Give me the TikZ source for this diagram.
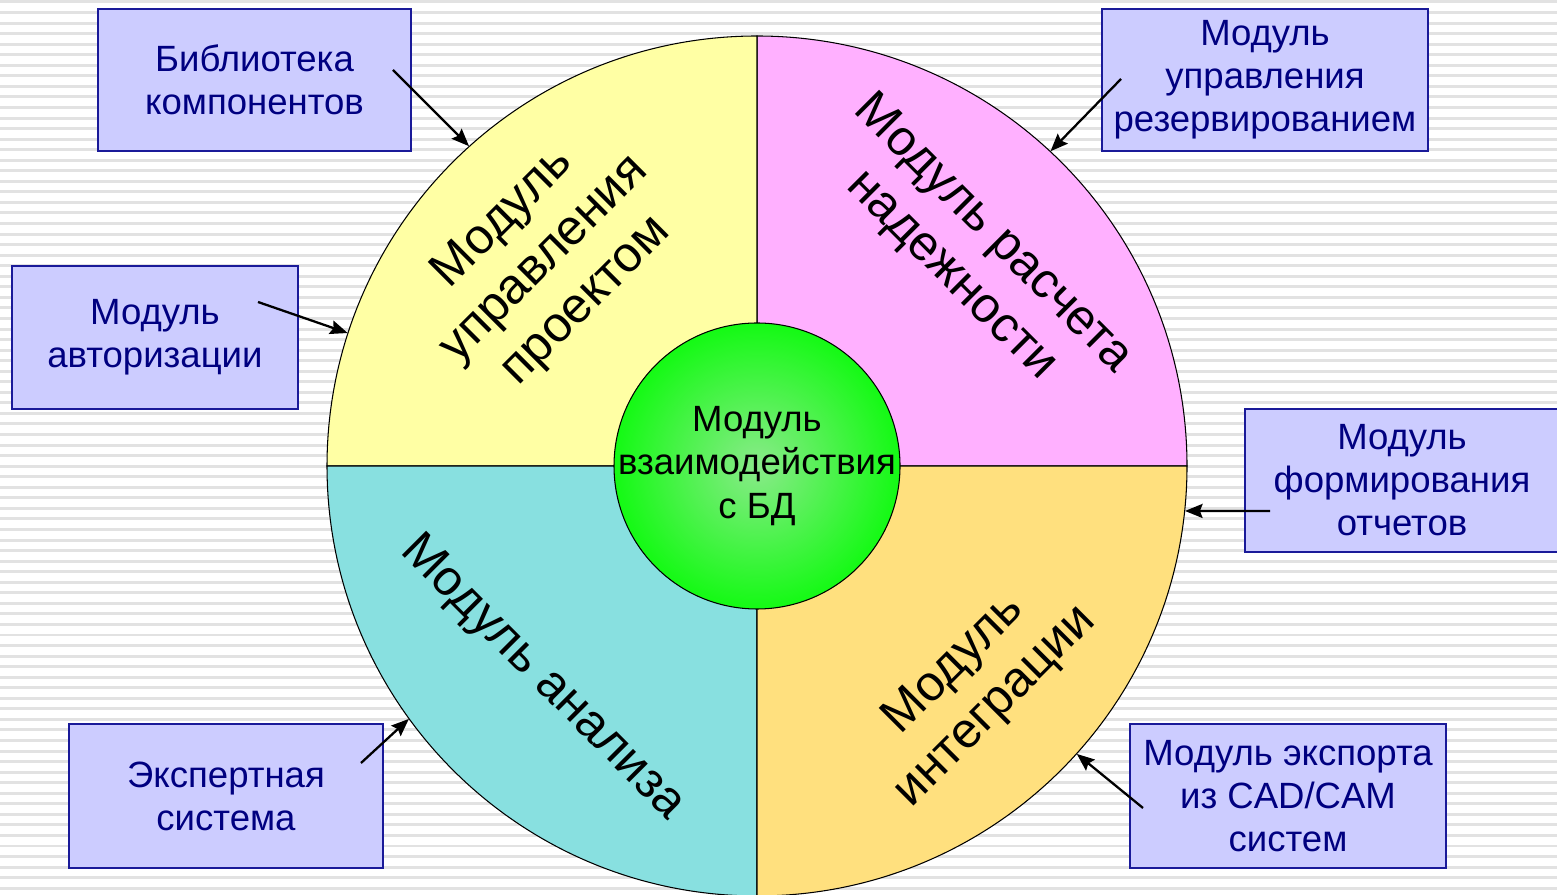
\documentclass[tikz,border=0pt]{standalone}
\usepackage{fontspec}
\setmainfont{Liberation Sans}
\usetikzlibrary{arrows.meta}

\definecolor{boxfill}{HTML}{CCCCFF}
\definecolor{boxline}{HTML}{1A1A99}
\definecolor{boxtext}{HTML}{000080}
\definecolor{secTL}{HTML}{FFFFA4}
\definecolor{secTR}{HTML}{FFB0FF}
\definecolor{secBL}{HTML}{88E0E0}
\definecolor{secBR}{HTML}{FFE07E}
\definecolor{hubin}{HTML}{8AEA8A}
\definecolor{hubout}{HTML}{14FA14}
\definecolor{stripe}{HTML}{E2E2E2}

\def\px{0.02cm}
\def\wheelrad{430}

\begin{document}
\begin{tikzpicture}[x=\px, y=\px]
        \tikzstyle{module}=[draw=boxline, line width=0.85pt, fill=boxfill, text=boxtext, align=center, inner sep=0pt, font=\fontsize{20.8}{24.5}\selectfont]
        \tikzstyle{sector}=[align=center, font=\fontsize{28.3}{33.5}\selectfont]
        \tikzstyle{link}=[line width=1.3pt, -{Stealth[length=10pt, width=8pt, inset=1.5pt]}]

        \useasboundingbox (0,0) rectangle (1557,895);
        \fill[white] (0,0) rectangle (1557,895);
        \foreach \k in {0,...,84}
            \draw[stripe, line width=1.7pt] (0,893-10.55*\k) -- (1557,893-10.55*\k);

        \node[circle, minimum size=2*\wheelrad*\px, inner sep=0pt] (wheel) at (757,429) {};
        \foreach \ang/\col in {0/secTR, 90/secTL, 180/secBL, 270/secBR}
            \filldraw[fill=\col, draw=black, line width=0.6pt] (wheel.center) -- ++(\ang:\wheelrad) arc[start angle=\ang, delta angle=90, radius=\wheelrad] -- cycle;

        \node[circle, draw=black, line width=0.6pt, inner color=hubin, outer color=hubout, minimum size=286*\px, inner sep=0pt] (hub) at (wheel.center) {};
        \node[align=center, font=\fontsize{20.8}{25}\selectfont] (hubtext) at (hub.center) {Модуль\\взаимодействия\\с БД};

        \node[sector, rotate=45] (projlbl) at (545,635) {Модуль\\управления\\проектом};
        \node[sector, rotate=-45] (rellbl) at (972,640) {Модуль расчета\\надежности};
        \node[sector, rotate=-45] (analbl) at (542,217) {Модуль анализа};
        \node[sector, rotate=45] (intlbl) at (975,209) {Модуль\\интеграции};

        \node[module, minimum width=313*\px, minimum height=142*\px] (lib) at (254.5,815) {Библиотека\\компонентов};
        \node[module, minimum width=286*\px, minimum height=143*\px] (auth) at (155,557.5) {Модуль\\авторизации};
        \node[module, minimum width=326*\px, minimum height=142*\px] (res) at (1265,815) {Модуль\\управления\\резервированием};
        \node[module, minimum width=314*\px, minimum height=143*\px] (rep) at (1402,414.5) {Модуль\\формирования\\отчетов};
        \node[module, minimum width=314*\px, minimum height=144*\px] (expert) at (226,99) {Экспертная\\система};
        \node[module, minimum width=316*\px, minimum height=144*\px] (cad) at (1288,99) {Модуль экспорта\\из CAD/CAM\\систем};

        \coordinate (libS) at (393,825);
        \coordinate (authS) at (258,593);
        \coordinate (resS) at (1121,816);
        \coordinate (repS) at (1270,384);
        \coordinate (expertS) at (361,132);
        \coordinate (cadS) at (1143,87);

        \draw[link] (libS) -- (wheel.132);
        \draw[link] (authS) -- (wheel.162);
        \draw[link] (resS) -- (wheel.47);
        \draw[link] (repS) -- (wheel.-6);
        \draw[link] (expertS) -- (wheel.216);
        \draw[link] (cadS) -- (wheel.-42);
\end{tikzpicture}
\end{document}
